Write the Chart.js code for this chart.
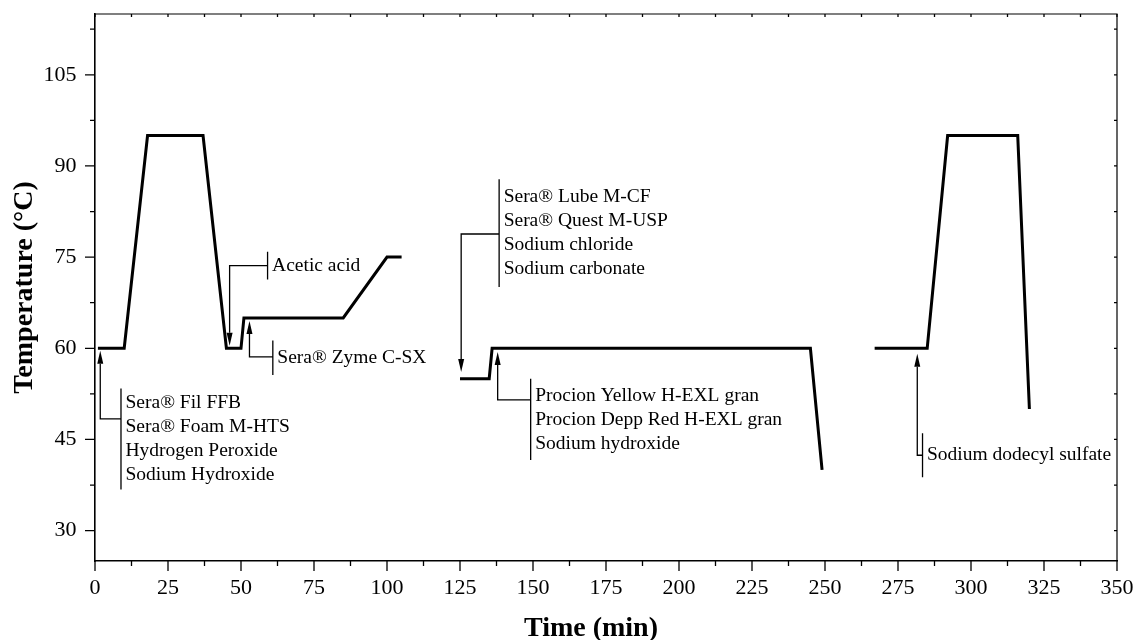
<!DOCTYPE html>
<html lang="en">
<head>
    <meta charset="UTF-8">
    <title>Temperature Profile</title>
    <script src="https://cdn.jsdelivr.net/npm/chart.js"></script>
    <style>
        html, body { margin: 0; padding: 0; background: #fff; }
        .wrap { width: 1137px; height: 640px; position: relative; }
    </style>
</head>
<body>
    <div class="wrap"><canvas id="profileChart"></canvas></div>

    <script>
        // Bath temperature against time, one array pair per bath
        const scouringTime = [1, 10, 18, 37, 45, 50, 51, 85, 100, 105];
        const scouringTemp = [60, 60, 95, 95, 60, 60, 65, 65, 75, 75];
        const dyeingTime = [125, 135, 136, 245, 249];
        const dyeingTemp = [55, 55, 60, 60, 40];
        const soapingTime = [267, 285, 292, 316, 320];
        const soapingTemp = [60, 60, 95, 95, 50];

        const xTicks = [0, 25, 50, 75, 100, 125, 150, 175, 200, 225, 250, 275, 300, 325, 350];
        const yTicks = [30, 45, 60, 75, 90, 105];

        // Chemical additions: arrow onto the curve, elbow to a bracket, product list
        const additions = [
            { lines: ['Sera® Fil FFB', 'Sera® Foam M-HTS', 'Hydrogen Peroxide', 'Sodium Hydroxide'],
              arrowX: 1.8, tipY: 59.6, elbowY: 48.4, barX: 8.9, barTop: 53.4, barBottom: 36.75 },
            { lines: ['Acetic acid'],
              arrowX: 46.1, tipY: 60.4, elbowY: 73.6, barX: 59.1, barTop: 75.9, barBottom: 71.3 },
            { lines: ['Sera® Zyme C-SX'],
              arrowX: 52.9, tipY: 64.5, elbowY: 58.6, barX: 60.9, barTop: 61.3, barBottom: 55.6 },
            { lines: ['Sera® Lube M-CF', 'Sera® Quest M-USP', 'Sodium chloride', 'Sodium carbonate'],
              arrowX: 125.4, tipY: 56.1, elbowY: 78.8, barX: 138.4, barTop: 87.8, barBottom: 70.1 },
            { lines: ['Procion Yellow H-EXL gran', 'Procion Depp Red H-EXL gran', 'Sodium hydroxide'],
              arrowX: 137.9, tipY: 59.4, elbowY: 51.5, barX: 149.2, barTop: 55.0, barBottom: 41.6 },
            { lines: ['Sodium dodecyl sulfate'],
              arrowX: 281.6, tipY: 59.1, elbowY: 42.4, barX: 283.4, barTop: 46.0, barBottom: 38.8 }
        ];

        const serif = "'Liberation Serif', 'Times New Roman', serif";

        function toPoints(xs, ys) {
            return xs.map((x, i) => ({ x: x, y: ys[i] }));
        }

        function bathDataset(xs, ys) {
            return {
                data: toPoints(xs, ys),
                showLine: true,
                borderColor: '#000',
                borderWidth: 3,
                pointRadius: 0,
                fill: false,
                tension: 0,
                borderJoinStyle: 'miter',
                borderCapStyle: 'butt'
            };
        }

        // fixed axis sizes, and no extra room for the end labels
        function fixBox(size) {
            return s => {
                if (s.isHorizontal()) s.height = size; else s.width = size;
                s.paddingLeft = s.paddingRight = s.paddingTop = s.paddingBottom = 0;
            };
        }

        // Frame, tick marks, titles and the addition markers
        const decorations = {
            id: 'decorations',
            afterDraw(chart) {
                const ctx = chart.ctx;
                const area = chart.chartArea;
                const xs = chart.scales.x;
                const ys = chart.scales.y;

                ctx.save();
                ctx.strokeStyle = '#000';
                ctx.fillStyle = '#000';

                // top and right frame
                ctx.lineWidth = 1.2;
                ctx.beginPath();
                ctx.moveTo(area.left, area.top);
                ctx.lineTo(area.right, area.top);
                ctx.lineTo(area.right, area.bottom);
                ctx.stroke();

                // x ticks: major outside at the labels, minor halfway, tiny ones on top
                ctx.lineWidth = 1.3;
                ctx.beginPath();
                for (let i = 0; i < xTicks.length; i++) {
                    const px = xs.getPixelForValue(xTicks[i]);
                    ctx.moveTo(px, area.bottom);
                    ctx.lineTo(px, area.bottom + 10);
                    ctx.moveTo(px, area.top);
                    ctx.lineTo(px, area.top + 3);
                    if (i < xTicks.length - 1) {
                        const mx = xs.getPixelForValue((xTicks[i] + xTicks[i + 1]) / 2);
                        ctx.moveTo(mx, area.bottom);
                        ctx.lineTo(mx, area.bottom + 5);
                        ctx.moveTo(mx, area.top);
                        ctx.lineTo(mx, area.top + 3);
                    }
                }
                // y ticks, including the half steps below and above the labels
                const yStep = yTicks[1] - yTicks[0];
                for (let v = yTicks[0] - yStep / 2; v <= ys.max; v += yStep / 2) {
                    if (v < ys.min) continue;
                    const py = ys.getPixelForValue(v);
                    const major = yTicks.includes(v);
                    ctx.moveTo(area.left, py);
                    ctx.lineTo(area.left - (major ? 10 : 5), py);
                    ctx.moveTo(area.right, py);
                    ctx.lineTo(area.right - 3, py);
                }
                ctx.stroke();

                // axis titles
                ctx.font = "bold 28px " + serif;
                ctx.textAlign = 'center';
                ctx.textBaseline = 'alphabetic';
                ctx.fillText('Time (min)', 591, 636);
                ctx.save();
                ctx.translate(32, (area.top + area.bottom) / 2);
                ctx.rotate(-Math.PI / 2);
                ctx.fillText('Temperature (°C)', 0, 0);
                ctx.restore();

                // additions
                ctx.lineWidth = 1.3;
                ctx.font = "19.5px " + serif;
                ctx.textAlign = 'left';
                ctx.textBaseline = 'middle';
                const head = 13, half = 3;
                additions.forEach(a => {
                    const ax = xs.getPixelForValue(a.arrowX);
                    const tip = ys.getPixelForValue(a.tipY);
                    const elbow = ys.getPixelForValue(a.elbowY);
                    const bx = xs.getPixelForValue(a.barX);
                    const bTop = ys.getPixelForValue(a.barTop);
                    const bBot = ys.getPixelForValue(a.barBottom);
                    const dir = Math.sign(tip - elbow);

                    ctx.beginPath();
                    ctx.moveTo(ax, tip - dir * head);
                    ctx.lineTo(ax, elbow);
                    ctx.lineTo(bx, elbow);
                    ctx.moveTo(bx, bTop);
                    ctx.lineTo(bx, bBot);
                    ctx.stroke();

                    ctx.beginPath();
                    ctx.moveTo(ax, tip);
                    ctx.lineTo(ax - half, tip - dir * head);
                    ctx.lineTo(ax + half, tip - dir * head);
                    ctx.closePath();
                    ctx.fill();

                    const lh = 24;
                    const mid = (bTop + bBot) / 2;
                    const first = mid - (a.lines.length - 1) * lh / 2;
                    a.lines.forEach((t, k) => ctx.fillText(t, bx + 4.5, first + k * lh));
                });

                ctx.restore();
            }
        };

        const tickFont = { family: serif, size: 22 };

        new Chart(document.getElementById('profileChart'), {
            type: 'scatter',
            data: {
                datasets: [
                    bathDataset(scouringTime, scouringTemp),
                    bathDataset(dyeingTime, dyeingTemp),
                    bathDataset(soapingTime, soapingTemp)
                ]
            },
            options: {
                responsive: true,
                maintainAspectRatio: false,
                animation: false,
                events: [],
                layout: { padding: { top: 14, right: 20, left: 0, bottom: 0 } },
                plugins: { legend: { display: false }, tooltip: { enabled: false } },
                scales: {
                    x: {
                        type: 'linear',
                        min: 0,
                        max: 350,
                        afterBuildTicks: s => { s.ticks = xTicks.map(v => ({ value: v })); },
                        afterFit: fixBox(79),
                        ticks: { font: tickFont, color: '#000', padding: 14, maxRotation: 0, autoSkip: false },
                        grid: { display: true, drawOnChartArea: false, drawTicks: false },
                        border: { display: true, color: '#000', width: 1.6 }
                    },
                    y: {
                        type: 'linear',
                        min: 25,
                        max: 115,
                        afterBuildTicks: s => { s.ticks = yTicks.map(v => ({ value: v })); },
                        afterFit: fixBox(95),
                        ticks: { font: tickFont, color: '#000', padding: 18.5, autoSkip: false },
                        grid: { display: true, drawOnChartArea: false, drawTicks: false },
                        border: { display: true, color: '#000', width: 1.6 }
                    }
                }
            },
            plugins: [decorations]
        });
    </script>
</body>
</html>
